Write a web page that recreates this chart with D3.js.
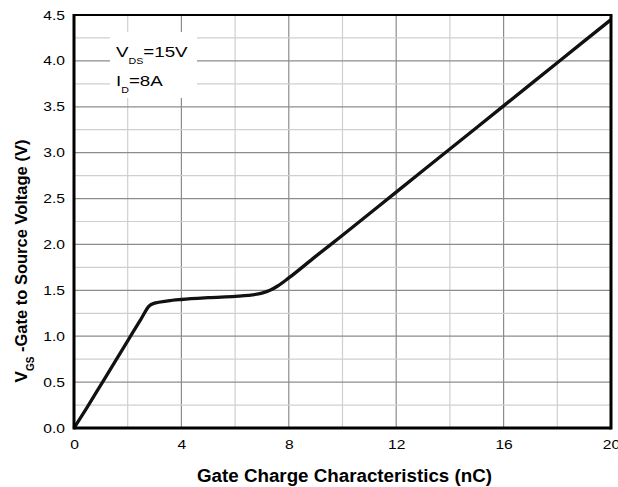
<!DOCTYPE html>
<html><head><meta charset="utf-8">
<script src="https://cdn.jsdelivr.net/npm/d3@7"></script>
<style>body{margin:0;background:#fff}svg{display:block}text{font-family:"Liberation Sans",Arial,sans-serif}</style>
</head><body><svg id="c" width="618" height="487"></svg>
<script>
const xTicks = [0, 4, 8, 12, 16, 20];
const yTicks = [0.0, 0.5, 1.0, 1.5, 2.0, 2.5, 3.0, 3.5, 4.0, 4.5];
const gateCharge = [0, 0.5, 1, 1.5, 2, 2.5, 2.8, 3.0, 3.5, 4, 5, 6, 6.5, 7, 7.3, 7.6, 8, 9, 10, 12, 14, 16, 18, 20];
const vgs =        [0, 0.23, 0.47, 0.71, 0.95, 1.19, 1.33, 1.36, 1.385, 1.40, 1.42, 1.435, 1.445, 1.47, 1.50, 1.55, 1.635, 1.87, 2.10, 2.57, 3.04, 3.51, 3.98, 4.45];

const svg = d3.select("#c");
const L = 74, R = 611, T = 15, B = 428;
const SX = 1.25; // horizontal stretch of the reference lettering
const x = d3.scaleLinear().domain([0, 20]).range([L, R]);
const y = d3.scaleLinear().domain([0, 4.5]).range([B, T]);

// grid
const g = svg.append("g");
d3.range(2, 20, 2).forEach(v => {
  g.append("line").attr("x1", x(v)).attr("x2", x(v)).attr("y1", T).attr("y2", B)
   .attr("stroke", v % 4 === 0 ? "#8c8c8c" : "#cfcfcf").attr("stroke-width", 1.2);
});
d3.range(1, 18).forEach(i => {
  const v = i * 0.25;
  g.append("line").attr("x1", L).attr("x2", R).attr("y1", y(v)).attr("y2", y(v))
   .attr("stroke", i % 2 === 0 ? "#8c8c8c" : "#cfcfcf").attr("stroke-width", 1.2);
});

// annotation box
svg.append("rect").attr("x", 110).attr("y", 32).attr("width", 87).attr("height", 66).attr("fill", "#fff");
const ann = svg.append("g").attr("transform", `translate(116,0) scale(${SX},1)`).attr("font-size", 15).attr("fill", "#000");
const t1 = ann.append("text").attr("x", 0).attr("y", 57);
t1.append("tspan").text("V");
t1.append("tspan").attr("font-size", 8.5).attr("dy", 7).text("DS");
t1.append("tspan").attr("dy", -7).text("=15V");
const t2 = ann.append("text").attr("x", 0).attr("y", 86.5);
t2.append("tspan").text("I");
t2.append("tspan").attr("font-size", 8.5).attr("dy", 7).text("D");
t2.append("tspan").attr("dy", -7).text("=8A");

// curve
const pts = gateCharge.map((q, i) => [q, vgs[i]]);
svg.append("path").datum(pts)
  .attr("d", d3.line().x(d => x(d[0])).y(d => y(d[1])).curve(d3.curveMonotoneX))
  .attr("fill", "none").attr("stroke", "#111").attr("stroke-width", 3.3).attr("stroke-linejoin", "round");

// frame
svg.append("line").attr("x1", L).attr("x2", R).attr("y1", T).attr("y2", T).attr("stroke", "#000").attr("stroke-width", 2);
svg.append("line").attr("x1", L).attr("x2", R).attr("y1", B).attr("y2", B).attr("stroke", "#000").attr("stroke-width", 3);
svg.append("line").attr("x1", L).attr("x2", L).attr("y1", T - 1).attr("y2", B + 1.5).attr("stroke", "#000").attr("stroke-width", 3);
svg.append("line").attr("x1", R).attr("x2", R).attr("y1", T - 1).attr("y2", B + 1.5).attr("stroke", "#000").attr("stroke-width", 3);

// axes (labels only)
const xAxis = d3.axisBottom(x).tickValues(xTicks).tickSize(0).tickPadding(12).tickFormat(d3.format("d"));
const xa = svg.append("g").attr("transform", `translate(0,${B})`).call(xAxis);
xa.select(".domain").remove();
xa.selectAll("text").attr("font-size", 12.5).attr("fill", "#000")
  .attr("font-family", '"Liberation Sans",Arial,sans-serif').attr("transform", `scale(${SX},1)`);

const yAxis = d3.axisLeft(y).tickValues(yTicks).tickSize(0).tickPadding(9 / SX).tickFormat(d3.format(".1f"));
const ya = svg.append("g").attr("transform", `translate(${L},0)`).call(yAxis);
ya.select(".domain").remove();
ya.selectAll("text").attr("font-size", 12.5).attr("fill", "#000")
  .attr("font-family", '"Liberation Sans",Arial,sans-serif').attr("transform", `scale(${SX},1)`);

// titles
svg.append("text").attr("x", 344.5).attr("y", 481.5).attr("text-anchor", "middle")
  .attr("font-size", 17.5).attr("font-weight", "bold")
  .attr("textLength", 295).attr("lengthAdjust", "spacingAndGlyphs")
  .text("Gate Charge Characteristics (nC)");
const yt = svg.append("text").attr("transform", "translate(27,261) rotate(-90)").attr("text-anchor", "middle")
  .attr("font-size", 16.5).attr("font-weight", "bold");
yt.append("tspan").attr("font-size", 17).text("V");
yt.append("tspan").attr("font-size", 10).attr("dy", 7).text("GS");
yt.append("tspan").attr("dy", -7).text(" -Gate to Source Voltage (V)");
</script></body></html>
